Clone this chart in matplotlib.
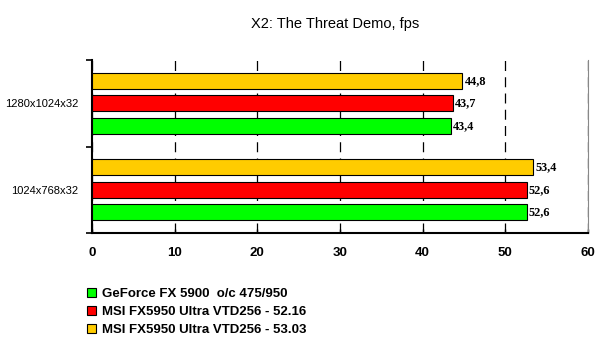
import matplotlib
matplotlib.use("Agg")
import matplotlib.pyplot as plt
import numpy as np
from matplotlib.patches import Patch

categories = ["1024x768x32", "1280x1024x32"]
series_names = ["GeForce FX 5900  o/c 475/950",
                "MSI FX5950 Ultra VTD256 - 52.16",
                "MSI FX5950 Ultra VTD256 - 53.03"]
values_green = [52.6, 43.4]
values_red = [52.6, 43.7]
values_yellow = [53.4, 44.8]
colors = ["#00FF00", "#FF0000", "#FFCC00"]
xticks = [0, 10, 20, 30, 40, 50, 60]
title = "X2: The Threat Demo, fps"

fig = plt.figure(figsize=(6.0, 3.51), dpi=100)
ax = fig.add_axes([92/600, 1-233/351, (588-92)/600, (233-60)/351])

y = np.arange(len(categories))
step = 0.26
h = 0.185
all_vals = [values_green, values_red, values_yellow]
for i, (vals, c) in enumerate(zip(all_vals, colors)):
    pos = y + (i - 1) * step
    ax.barh(pos, vals, height=h, color=c, edgecolor="black", linewidth=0.8, zorder=3)
    for p, v in zip(pos, vals):
        ax.text(v + 0.25, p, f"{v:.1f}".replace(".", ","), va="center", ha="left",
                fontsize=8.8, fontweight="bold", family="Liberation Serif", zorder=4)

ax.set_xlim(0, 60)
ax.set_ylim(-0.5, 1.5)
ax.set_xticks(xticks)
ax.set_xticklabels([str(t) for t in xticks], fontsize=9.5, fontweight="bold",
                   family="Liberation Sans")
ax.set_yticks([-0.5, 0.5, 1.5])
ax.set_yticklabels([])
ax.set_yticks(y, minor=True)
ax.set_yticklabels(categories, minor=True, fontsize=8, family="Liberation Sans")
ax.tick_params(axis="y", which="minor", length=0, pad=10)
ax.tick_params(axis="y", which="major", length=4, width=1.2, direction="out")
ax.tick_params(axis="x", length=3, width=1, direction="in", pad=10)
ax.xaxis.grid(True, color="black", linestyle=(0, (8, 5)), linewidth=0.9, zorder=0)
ax.spines["top"].set_visible(False)
ax.spines["right"].set_color("#888888")
ax.spines["right"].set_linewidth(0.8)
ax.spines["left"].set_linewidth(1.5)
ax.spines["bottom"].set_linewidth(1.5)

fig.text(0.558, 0.932, title, ha="center", va="center", fontsize=10.5,
         family="Liberation Sans")

handles = [Patch(facecolor=c, edgecolor="black", linewidth=0.8) for c in colors]
leg = fig.legend(handles, series_names, loc="upper left", bbox_to_anchor=(0.145, 0.18),
                 bbox_transform=fig.transFigure, frameon=False,
                 handlelength=0.7, handleheight=0.7, handletextpad=0.45, labelspacing=0.45,
                 borderaxespad=0, borderpad=0,
                 prop={"family": "Liberation Sans", "weight": "bold", "size": 9.5})

fig.savefig("out.png", dpi=100)
